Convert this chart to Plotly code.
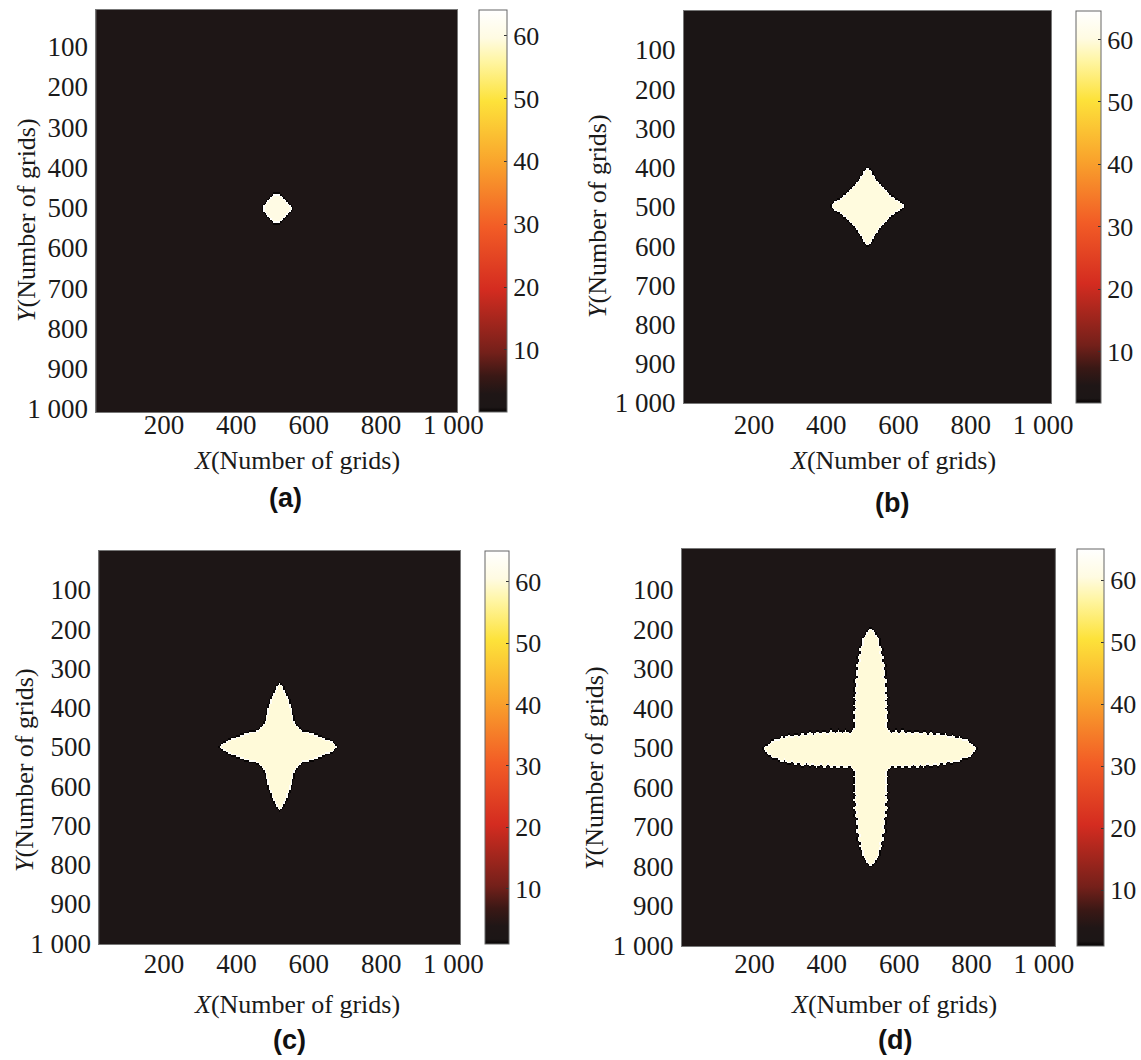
import numpy as np
import plotly.graph_objects as go

# ---------------- data (grid units) ----------------
panel_labels = ["(a)", "(b)", "(c)", "(d)"]
x_title = "<i>X</i>(Number of grids)"
y_title = "<i>Y</i>(Number of grids)"

x_tick_vals = [200, 400, 600, 800, 1000]
x_tick_text = ["200", "400", "600", "800", "1 000"]
y_tick_vals = [100, 200, 300, 400, 500, 600, 700, 800, 900, 1000]
y_tick_text = ["100", "200", "300", "400", "500", "600", "700", "800", "900", "1 000"]
cbar_tick_vals = [10, 20, 30, 40, 50, 60]

# field values (colour index of the hot map)
background_value = 2.5
crystal_value = 60
rim_value = 64
halo_value = -5

# crystal centre, arm tip distances (up, down, left, right),
# half-width profile along an arm (fraction of arm length -> half width)
center_a = (513, 502)
arms_a = [37, 37, 40, 40]
prof_f_a = [0.0, 0.13, 0.26, 0.53, 0.79, 0.92, 0.99, 1.0]
prof_w_a = [38, 37, 33, 23, 13, 7, 3, 0]
core_a = 0

center_b = (514, 498)
arms_b = [98, 103, 102, 101]
prof_f_b = [0.0, 0.05, 0.1, 0.15, 0.2, 0.3, 0.4, 0.5, 0.6, 0.7, 0.8, 0.9, 0.95, 1.0]
prof_w_b = [100, 90, 83, 76, 70, 59, 48, 38, 30, 22, 15, 9, 6, 0]
core_b = 0

center_c = (520, 500)
arms_c = [163, 161, 166, 159]
prof_f_c = [0.0, 0.185, 0.37, 0.49, 0.62, 0.74, 0.83, 0.92, 0.97, 1.0]
prof_w_c = [45, 44, 41, 37, 31, 24, 18, 11, 6, 0]
core_c = 100

center_d = (522, 503)
arms_d = [306, 296, 297, 294]
prof_f_d = [0.0, 0.033, 0.067, 0.1, 0.133, 0.167, 0.2, 0.233, 0.267, 0.3,
            0.333, 0.367, 0.4, 0.433, 0.467, 0.5, 0.533, 0.567, 0.6, 0.633,
            0.667, 0.7, 0.733, 0.767, 0.8, 0.833, 0.867, 0.9, 0.933, 0.967, 1.0]
prof_w_d = [45, 45, 45, 45, 45, 49, 41, 49, 41, 49,
            41, 48, 40, 48, 39, 47, 38, 45, 36, 43,
            34, 40, 31, 37, 28, 32, 23, 25, 17, 10, 0]
core_d = 100

cbar_range_a = [0.1, 64.1]
cbar_range_b = [1.8, 64.6]
cbar_range_c = [1.0, 65.0]
cbar_range_d = [1.0, 65.0]

# ---------------- build the fields ----------------
GRID_STEP = 4
grid = np.arange(-8, 1040, GRID_STEP)


def crystal_field(center, arms, prof_f, prof_w, core):
    X, Y = np.meshgrid(grid, grid)
    dx = X - center[0]
    dy = Y - center[1]
    up, down, left, right = arms
    Lh = np.where(dx >= 0, right, left)
    Lv = np.where(dy >= 0, down, up)
    fh = np.abs(dx) / Lh
    fv = np.abs(dy) / Lv
    inside_h = (fh <= 1) & (np.abs(dy) <= np.interp(fh, prof_f, prof_w))
    inside_v = (fv <= 1) & (np.abs(dx) <= np.interp(fv, prof_f, prof_w))
    mask = inside_h | inside_v | ((np.abs(dx) + np.abs(dy)) <= core)
    shifts = [(1, 0), (-1, 0), (1, 1), (-1, 1)]
    ero = mask.copy()
    dil = mask.copy()
    for s, ax in shifts:
        ero &= np.roll(mask, s, axis=ax)
        dil |= np.roll(mask, s, axis=ax)
    z = np.full(mask.shape, background_value, dtype=float)
    z[dil & ~mask] = halo_value
    z[mask] = crystal_value
    z[mask & ~ero] = rim_value
    return z


fields = [
    crystal_field(center_a, arms_a, prof_f_a, prof_w_a, core_a),
    crystal_field(center_b, arms_b, prof_f_b, prof_w_b, core_b),
    crystal_field(center_c, arms_c, prof_f_c, prof_w_c, core_c),
    crystal_field(center_d, arms_d, prof_f_d, prof_w_d, core_d),
]
cbar_ranges = [cbar_range_a, cbar_range_b, cbar_range_c, cbar_range_d]

hot_scale = [
    [0.0, "#070404"],
    [0.012, "#1c1616"],
    [0.045, "#1f1616"],
    [0.09, "#3a1815"],
    [0.148, "#74201a"],
    [0.305, "#d42c20"],
    [0.46, "#f25c26"],
    [0.617, "#f9a22c"],
    [0.773, "#fde23a"],
    [0.87, "#fff5a0"],
    [0.93, "#fffbe2"],
    [1.0, "#ffffff"],
]

# ---------------- layout (pixels in a 1141 x 1060 page) ----------------
W, H = 1141, 1060
# plot box: left, right, top, bottom
boxes = [(96.4, 457, 10, 412), (684, 1051, 10.7, 403),
         (99.3, 460, 550.7, 944), (682, 1054.8, 549, 946)]
x_ranges = [[13, 1010], [6, 1022], [21, 1018], [0, 1030]]
y_ranges = [[1008, 9], [1000, 0], [1002, 0], [1002, -4]]
# colourbar: left, width, top, bottom
cbars = [(478.6, 28, 10, 412), (1076, 25, 10.7, 403),
         (485, 24, 551, 944), (1076.6, 27, 549, 946)]
xstand = [-11, -2, -4, -6]
xtitle_pos = [(297, 460), (893, 461), (297, 1004), (894, 1004)]
ytitle_pos = [(27, 220), (598, 216), (24, 770), (594, 768)]
label_pos = [(285, 498), (892, 503), (289, 1040), (895, 1040)]

serif = "Liberation Serif, Times New Roman, serif"
txt_col = "#1a1a1a"
TICK_SIZE = 27
TITLE_SIZE = 26
CBAR_SIZE = 26

fig = go.Figure()
layout_axes = {}
annotations = []
for i in range(4):
    n = "" if i == 0 else str(i + 1)
    l, r, t, b = boxes[i]
    cl, cw, ct, cb = cbars[i]
    fig.add_trace(go.Heatmap(
        x=grid, y=grid, z=fields[i],
        xaxis="x" + n, yaxis="y" + n,
        colorscale=hot_scale, zmin=cbar_ranges[i][0], zmax=cbar_ranges[i][1],
        zsmooth=False, hoverinfo="skip",
        colorbar=dict(
            x=cl / W, xanchor="left", y=1 - ct / H, yanchor="top",
            len=cb - ct, lenmode="pixels", thickness=cw, thicknessmode="pixels",
            xpad=0, ypad=0, outlinecolor="#666666", outlinewidth=1,
            tickvals=cbar_tick_vals, ticks="inside", ticklen=3, tickcolor="#333333",
            tickfont=dict(family=serif, size=CBAR_SIZE, color=txt_col),
        ),
    ))
    layout_axes["xaxis" + n] = dict(
        domain=[l / W, r / W], range=x_ranges[i], anchor="y" + n,
        tickvals=x_tick_vals, ticktext=x_tick_text, ticks="",
        ticklabelstandoff=xstand[i], automargin=False,
        tickfont=dict(family=serif, size=TICK_SIZE, color=txt_col),
        showgrid=False, zeroline=False, showline=True, mirror=True,
        linecolor="#777777", linewidth=1,
    )
    layout_axes["yaxis" + n] = dict(
        domain=[1 - b / H, 1 - t / H], range=y_ranges[i], anchor="x" + n,
        tickvals=y_tick_vals, ticktext=y_tick_text, ticks="",
        ticklabelstandoff=2, automargin=False,
        tickfont=dict(family=serif, size=TICK_SIZE, color=txt_col),
        showgrid=False, zeroline=False, showline=True, mirror=True,
        linecolor="#777777", linewidth=1,
    )
    annotations.append(dict(
        text=x_title, x=xtitle_pos[i][0] / W, y=1 - xtitle_pos[i][1] / H,
        xref="paper", yref="paper", xanchor="center", yanchor="middle",
        showarrow=False, font=dict(family=serif, size=TITLE_SIZE, color=txt_col)))
    annotations.append(dict(
        text=y_title, x=ytitle_pos[i][0] / W, y=1 - ytitle_pos[i][1] / H,
        xref="paper", yref="paper", xanchor="center", yanchor="middle",
        textangle=-90, showarrow=False,
        font=dict(family=serif, size=TITLE_SIZE, color=txt_col)))
    annotations.append(dict(
        text="<b>" + panel_labels[i] + "</b>",
        x=label_pos[i][0] / W, y=1 - label_pos[i][1] / H,
        xref="paper", yref="paper", xanchor="center", yanchor="middle",
        showarrow=False,
        font=dict(family="Liberation Sans, Arial, sans-serif", size=27, color="#111111")))

fig.update_layout(
    width=W, height=H, margin=dict(l=0, r=0, t=0, b=0, autoexpand=False),
    font=dict(family=serif, size=25, color=txt_col),
    paper_bgcolor="white", plot_bgcolor="#1c1616",
    showlegend=False, annotations=annotations, **layout_axes,
)

fig.write_html("out.html", config={"displayModeBar": False})
